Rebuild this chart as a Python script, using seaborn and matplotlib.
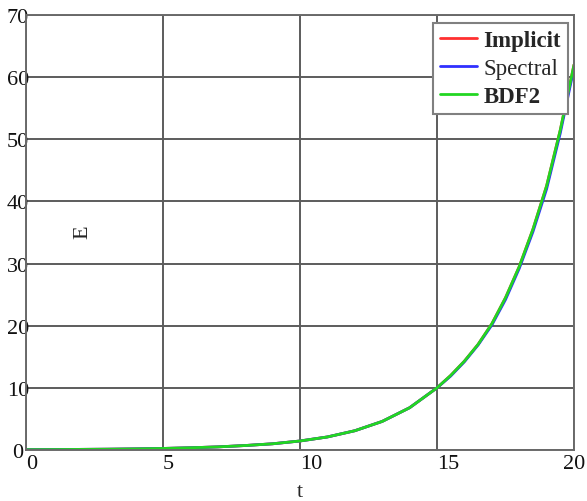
import numpy as np
import pandas as pd
import matplotlib
matplotlib.use("Agg")
import matplotlib.pyplot as plt
import seaborn as sns

# ---- data ----
t_values = [0, 1, 2, 3, 4, 5, 6, 7, 8, 9, 10, 11, 12, 13, 14, 15, 15.5, 16, 16.5,
            17, 17.5, 18, 18.5, 19, 19.5, 20]
implicit = [0.05, 0.07, 0.10, 0.13, 0.18, 0.25, 0.36, 0.50, 0.72, 1.0, 1.45,
            2.1, 3.1, 4.6, 6.8, 10.0, 12.0, 14.3, 17.0, 20.3, 24.5, 29.5, 35.5,
            42.5, 51.5, 62.0]
spectral = [0.05, 0.07, 0.10, 0.13, 0.18, 0.25, 0.36, 0.50, 0.72, 1.0, 1.45,
            2.1, 3.1, 4.6, 6.8, 10.0, 11.9, 14.2, 16.9, 20.1, 24.2, 29.2, 35.1,
            42.0, 51.0, 61.5]
bdf2 = [0.05, 0.07, 0.10, 0.13, 0.18, 0.25, 0.36, 0.50, 0.72, 1.0, 1.45,
        2.1, 3.1, 4.6, 6.8, 10.0, 12.0, 14.3, 17.0, 20.3, 24.5, 29.5, 35.5,
        42.5, 51.5, 62.0]
series_names = ["Implicit", "Spectral", "BDF2"]
series_colors = ["#ff3030", "#3030ff", "#22d622"]
x_ticks = [0, 5, 10, 15, 20]
y_ticks = [0, 10, 20, 30, 40, 50, 60, 70]

df = pd.concat([
    pd.DataFrame({"t": t_values, "E": implicit, "method": "Implicit"}),
    pd.DataFrame({"t": t_values, "E": spectral, "method": "Spectral"}),
    pd.DataFrame({"t": t_values, "E": bdf2, "method": "BDF2"}),
])

sns.set_style("white")
plt.rcParams["font.family"] = ["Liberation Serif", "DejaVu Serif"]

fig = plt.figure(figsize=(5.87, 5.02), dpi=100)
ax = fig.add_axes([26 / 587, 1 - 451 / 502, 548 / 587, 435 / 502])

sns.lineplot(data=df, x="t", y="E", hue="method", hue_order=series_names,
             palette=series_colors, linewidth=2.0, ax=ax, legend=False)

ax.set_xlim(0, 20)
ax.set_ylim(0, 70)
ax.set_xticks(x_ticks)
ax.set_yticks(y_ticks)
ax.grid(True, color="#5c5c5c", linewidth=1.4)
ax.set_axisbelow(True)
for s in ax.spines.values():
    s.set_color("#6a6a6a")
    s.set_linewidth(1.4)

ax.tick_params(axis="both", length=0, labelsize=16, colors="#111111")
ax.tick_params(axis="y", pad=5.8)
ax.tick_params(axis="x", pad=3)
yl = ax.set_yticklabels([str(v) for v in y_ticks])
for lab in yl:
    lab.set_ha("center")
xl = ax.set_xticklabels([str(v) for v in x_ticks])
for lab in xl[:-1]:
    lab.set_ha("left")
xl[-1].set_ha("center")

ax.set_xlabel("t", fontsize=16, labelpad=6.5)
ax.set_ylabel("")
ax.text(0.103, 0.503, "E", rotation=90, fontsize=16, ha="center", va="center",
        transform=ax.transAxes)

handles = [plt.Line2D([], [], color=c, linewidth=2.0) for c in series_colors]
leg = ax.legend(handles, series_names, loc="upper right",
                bbox_to_anchor=(0.989, 0.981), borderaxespad=0,
                fontsize=16.5, fancybox=False, framealpha=1,
                edgecolor="#808080", handlelength=1.6, handletextpad=0.3,
                labelspacing=0.3, borderpad=0.3)
leg.get_frame().set_linewidth(1.5)
texts = leg.get_texts()
texts[0].set_fontweight("bold")
texts[2].set_fontweight("bold")

fig.savefig("out.png", dpi=100)
